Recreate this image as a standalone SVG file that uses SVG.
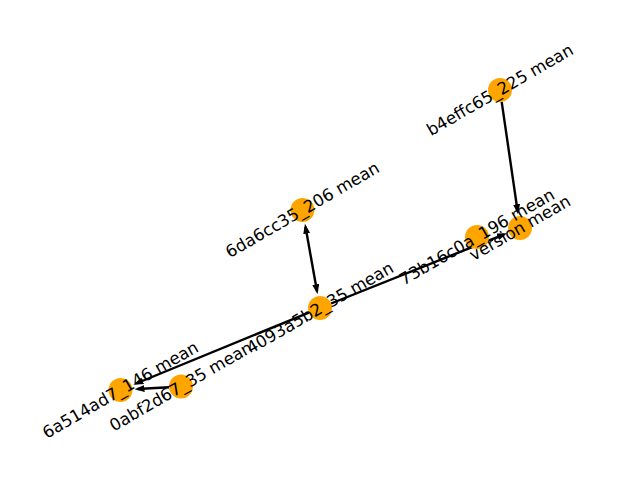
<svg xmlns="http://www.w3.org/2000/svg" width="640" height="480" viewBox="0 0 640 480">
<style>
.e{fill:none;stroke:#000;stroke-width:2.4}
.n{fill:#ffa500}
.t{font-family:"DejaVu Sans",sans-serif;font-size:16.67px;fill:#000;text-anchor:middle;dominant-baseline:central}
</style>
<defs>
<marker id="ah" markerUnits="userSpaceOnUse" markerWidth="10" markerHeight="7" viewBox="0 0 10 7" refX="7" refY="3.5" orient="auto-start-reverse">
<path d="M0,0 L10,3.5 L0,7 z" fill="#000"/>
</marker>
</defs>
<rect width="640" height="480" fill="#fff"/>
<g id="edges">
<path class="e" d="M501.7,101.9 L517.6,211.2" marker-end="url(#ah)"/>
<path class="e" d="M305.5,226.7 L317.0,291.3" marker-start="url(#ah)" marker-end="url(#ah)"/>
<path class="e" d="M331.1,303.5 L504.2,234.3" marker-end="url(#ah)"/>
<path class="e" d="M308.9,312.6 L136.2,383.5" marker-end="url(#ah)"/>
<path class="e" d="M169,387.2 L137.5,389.0" marker-end="url(#ah)"/>
</g>
<g id="node-b4effc65"><circle class="n" cx="500" cy="90" r="12"/></g>
<g id="node-version"><circle class="n" cx="520" cy="228" r="12"/></g>
<g id="node-73b16c0a"><circle class="n" cx="477" cy="237" r="12"/></g>
<g id="node-6da6cc35"><circle class="n" cx="302.5" cy="210" r="12"/></g>
<g id="node-4093a5b2"><circle class="n" cx="320" cy="308" r="12"/></g>
<g id="node-6a514ad7"><circle class="n" cx="120.5" cy="390" r="12"/></g>
<g id="node-0abf2d67"><circle class="n" cx="181" cy="386.5" r="12"/></g>
<g id="labels">
<text class="t" transform="translate(500,90) rotate(-30)">b4effc65_225 mean</text>
<text class="t" transform="translate(520,228) rotate(-30)">version mean</text>
<text class="t" transform="translate(477,237) rotate(-30)">73b16c0a_196 mean</text>
<text class="t" transform="translate(302.5,210) rotate(-30)">6da6cc35_206 mean</text>
<text class="t" transform="translate(320,308) rotate(-30)">4093a5b2_35 mean</text>
<text class="t" transform="translate(120.5,390) rotate(-30)">6a514ad7_146 mean</text>
<text class="t" transform="translate(181,386.5) rotate(-30)">0abf2d67_35 mean</text>
</g>
</svg>
